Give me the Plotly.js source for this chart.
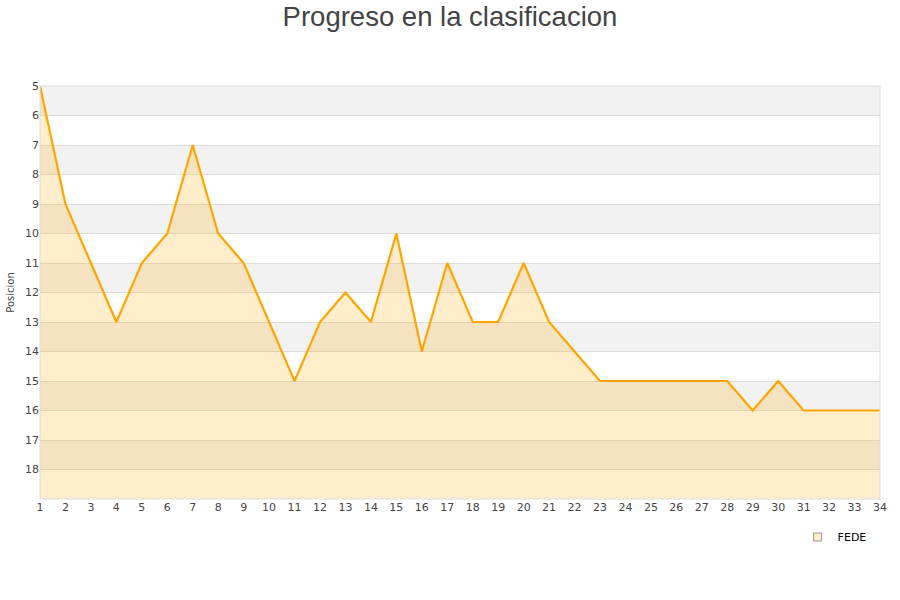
<!DOCTYPE html>
<html>
<head>
<meta charset="utf-8">
<script src="https://cdn.plot.ly/plotly-3.0.1.min.js"></script>
<style>html,body{margin:0;padding:0;background:#fff;}#chart{width:900px;height:600px;}</style>
</head>
<body>
<div id="chart"></div>
<script>
const jornadas = [1,2,3,4,5,6,7,8,9,10,11,12,13,14,15,16,17,18,19,20,21,22,23,24,25,26,27,28,29,30,31,32,33,34];
const posiciones = [5,9,11,13,11,10,7,10,11,13,15,13,12,13,10,14,11,13,13,11,13,14,15,15,15,15,15,15,16,15,16,16,16,16];
const seriesName = 'FEDE';
const yMin = 5, yMax = 19;
const yTicks = [5,6,7,8,9,10,11,12,13,14,15,16,17,18];

const shapes = [];
for (let v = yMin; v < yMax; v++) {
  if ((v - yMin) % 2 === 0) {
    shapes.push({type:'rect', xref:'paper', yref:'y', x0:0, x1:1, y0:v, y1:v+1,
      fillcolor:'#f2f2f2', line:{width:0}, layer:'below'});
  }
}

const baseline = {
  x: jornadas, y: jornadas.map(() => yMax), mode:'lines',
  line:{width:0, color:'rgba(0,0,0,0)'}, showlegend:false, hoverinfo:'skip'
};
const trace = {
  x: jornadas, y: posiciones, name: seriesName, mode:'lines',
  fill:'tonexty', fillcolor:'rgba(255,165,0,0.2)',
  line:{color:'#FFA500', width:2.2}, showlegend:false
};
const legendEntry = {
  x:[null], y:[null], name: seriesName, mode:'markers',
  marker:{symbol:'square', size:8, color:'#FFEDCC', line:{color:'#999', width:1}},
  showlegend:true
};

const layout = {
  width:900, height:600,
  margin:{l:40, r:20, t:86, b:101},
  paper_bgcolor:'#fff', plot_bgcolor:'#fff',
  font:{family:'"DejaVu Sans", sans-serif', size:11, color:'#555'},
  title:{text:'Progreso en la clasificacion', x:0.5, xanchor:'center', y:0.988, yanchor:'top',
    font:{family:'"Liberation Sans", Arial, sans-serif', size:27.5, color:'#444'}},
  xaxis:{range:[1,34], tickmode:'array', tickvals:jornadas, showgrid:false, zeroline:false,
    showline:false, ticks:'', tickfont:{size:11, color:'#444'}},
  yaxis:{range:[yMax,yMin], tickmode:'array', tickvals:yTicks, showgrid:true, gridcolor:'#dddddd',
    zeroline:false, showline:false, ticks:'', tickfont:{size:11, color:'#444'},
    title:{text:'Posicion', font:{size:10, color:'#444'}, standoff:8}},
  shapes: shapes.concat([
    {type:'line', xref:'paper', yref:'paper', x0:0, x1:0, y0:0, y1:1, line:{color:'#dddddd', width:1}},
    {type:'line', xref:'paper', yref:'paper', x0:1, x1:1, y0:0, y1:1, line:{color:'#dddddd', width:1}},
    {type:'line', xref:'paper', yref:'paper', x0:0, x1:1, y0:0, y1:0, line:{color:'#dddddd', width:1}},
    {type:'line', xref:'paper', yref:'paper', x0:0, x1:1, y0:1, y1:1, line:{color:'#dddddd', width:1}}
  ]),
  showlegend:true,
  legend:{x:0.99, xanchor:'right', y:-0.092, yanchor:'middle', orientation:'h',
    itemwidth:30, font:{size:11, color:'#000'}, bgcolor:'rgba(0,0,0,0)'}
};

Plotly.newPlot('chart', [baseline, trace, legendEntry], layout, {displayModeBar:false, staticPlot:true});
</script>
</body>
</html>
